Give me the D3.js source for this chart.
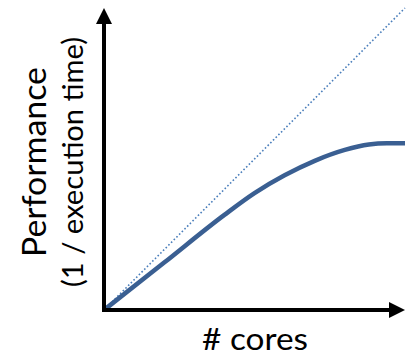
<!DOCTYPE html>
<html><head><meta charset="utf-8">
<script src="https://cdn.jsdelivr.net/npm/d3@7"></script>
<style>html,body{margin:0;padding:0;background:#fff;}svg{display:block;}</style>
</head><body>
<script>
// Data (arbitrary units, 0-100)
const cores = [0, 20, 40, 50, 60, 70, 80, 88, 94, 100];
const performance = [0, 15.7, 31.5, 38.7, 44.6, 49.4, 53.0, 54.8, 55.2, 55.2];
const idealCores = [0, 100];
const idealPerformance = [0, 100];
const yLabel = "Performance";
const ySubLabel = "(1 / execution time)";
const xLabel = "# cores";

const W = 410, H = 357;
const svg = d3.select("body").append("svg").attr("width", W).attr("height", H);
const x = d3.scaleLinear().domain([0, 100]).range([104, 405]);
const y = d3.scaleLinear().domain([0, 100]).range([310, 8]);
const font = "Lato, 'Open Sans', sans-serif";

const line = d3.line().x(d => x(d[0])).y(d => y(d[1]));

// ideal dotted line
svg.append("path")
  .datum(idealCores.map((c, i) => [c, idealPerformance[i]]))
  .attr("d", line)
  .attr("fill", "none").attr("stroke", "#4A7EBB")
  .attr("stroke-width", 1.6).attr("stroke-dasharray", "1.6,2.2");

// actual curve
svg.append("path")
  .datum(cores.map((c, i) => [c, performance[i]]))
  .attr("d", line.curve(d3.curveMonotoneX))
  .attr("fill", "none").attr("stroke", "#3A5F92")
  .attr("stroke-width", 4.5).attr("stroke-linecap", "butt");

// axes
const x0 = x(0), y0 = y(0), xMax = x(100), yMax = y(100);
const ah = 16, aw = 8;
svg.append("line").attr("x1", x0).attr("x2", x0).attr("y1", y0 + 2).attr("y2", yMax + ah)
  .attr("stroke", "#000").attr("stroke-width", 4);
svg.append("line").attr("x1", x0 - 2).attr("x2", xMax - ah).attr("y1", y0).attr("y2", y0)
  .attr("stroke", "#000").attr("stroke-width", 4);
svg.append("path").attr("d", `M${x0},${yMax}L${x0 - aw},${yMax + ah}L${x0 + aw},${yMax + ah}Z`).attr("fill", "#000");
svg.append("path").attr("d", `M${xMax},${y0}L${xMax - ah},${y0 - aw}L${xMax - ah},${y0 + aw}Z`).attr("fill", "#000");

// labels
svg.append("text").attr("transform", "translate(46,162) rotate(-90)")
  .attr("text-anchor", "middle").attr("font-family", font).attr("font-size", 33)
  .attr("textLength", 190).attr("lengthAdjust", "spacingAndGlyphs")
  .text(yLabel);
svg.append("text").attr("transform", "translate(83,162) rotate(-90)")
  .attr("text-anchor", "middle").attr("font-family", font).attr("font-size", 29)
  .attr("textLength", 250).attr("lengthAdjust", "spacingAndGlyphs")
  .text(ySubLabel);
svg.append("text").attr("x", 255).attr("y", 350)
  .attr("text-anchor", "middle").attr("font-family", font).attr("font-size", 30)
  .attr("textLength", 106).attr("lengthAdjust", "spacingAndGlyphs")
  .text(xLabel);
</script>
</body></html>
